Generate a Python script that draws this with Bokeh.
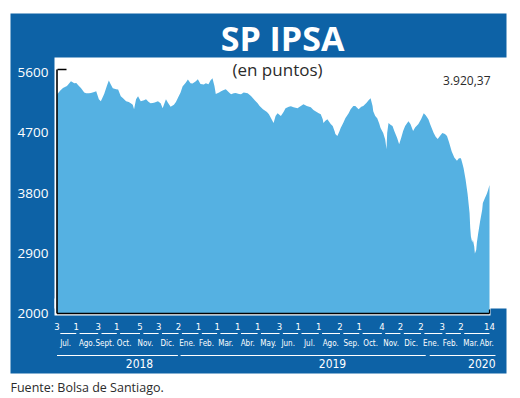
import pandas as pd
from bokeh.plotting import figure
from bokeh.models import Range1d
from bokeh.core.properties import value
from bokeh.embed import file_html
from bokeh.resources import INLINE

# ---------------- data ----------------
dates = [
    "2018-07-03", "2018-07-08", "2018-07-12", "2018-07-18", "2018-07-24", "2018-07-29",
    "2018-08-01", "2018-08-05", "2018-08-08", "2018-08-13", "2018-08-16", "2018-08-20",
    "2018-08-23", "2018-08-28", "2018-08-31", "2018-09-04", "2018-09-07", "2018-09-12",
    "2018-09-16", "2018-09-19", "2018-09-22", "2018-09-25", "2018-09-30", "2018-10-03",
    "2018-10-07", "2018-10-10", "2018-10-15", "2018-10-19", "2018-10-22", "2018-10-25",
    "2018-10-27", "2018-10-30", "2018-11-02", "2018-11-06", "2018-11-11", "2018-11-14",
    "2018-11-18", "2018-11-21", "2018-11-26", "2018-12-02", "2018-12-06", "2018-12-09",
    "2018-12-14", "2018-12-17", "2018-12-21", "2018-12-26", "2018-12-29", "2019-01-02",
    "2019-01-05", "2019-01-08", "2019-01-13", "2019-01-16", "2019-01-20", "2019-01-23",
    "2019-01-28", "2019-01-31", "2019-02-04", "2019-02-09", "2019-02-12", "2019-02-16",
    "2019-02-19", "2019-02-22", "2019-02-25", "2019-02-27", "2019-03-04", "2019-03-07",
    "2019-03-11", "2019-03-14", "2019-03-19", "2019-03-22", "2019-03-26", "2019-03-29",
    "2019-04-03", "2019-04-06", "2019-04-10", "2019-04-16", "2019-04-21", "2019-04-24",
    "2019-04-27", "2019-05-01", "2019-05-04", "2019-05-09", "2019-05-15", "2019-05-18",
    "2019-05-22", "2019-05-25", "2019-05-28", "2019-05-31", "2019-06-05", "2019-06-09",
    "2019-06-12", "2019-06-17", "2019-06-20", "2019-06-24", "2019-06-30", "2019-07-05",
    "2019-07-09", "2019-07-14", "2019-07-20", "2019-07-24", "2019-07-27", "2019-08-01",
    "2019-08-04", "2019-08-07", "2019-08-08", "2019-08-11", "2019-08-14", "2019-08-19",
    "2019-08-22", "2019-08-25", "2019-08-26", "2019-08-29", "2019-09-01", "2019-09-03",
    "2019-09-07", "2019-09-10", "2019-09-15", "2019-09-18", "2019-09-22", "2019-09-25",
    "2019-09-30", "2019-10-04", "2019-10-07", "2019-10-12", "2019-10-15", "2019-10-18",
    "2019-10-21", "2019-10-22", "2019-10-25", "2019-10-28", "2019-10-31", "2019-11-02",
    "2019-11-06", "2019-11-09", "2019-11-11", "2019-11-12", "2019-11-14", "2019-11-17",
    "2019-11-20", "2019-11-23", "2019-11-27", "2019-11-30", "2019-12-03", "2019-12-06",
    "2019-12-09", "2019-12-14", "2019-12-17", "2019-12-21", "2019-12-24", "2019-12-29",
    "2020-01-02", "2020-01-06", "2020-01-09", "2020-01-13", "2020-01-16", "2020-01-21",
    "2020-01-24", "2020-01-27", "2020-01-31", "2020-02-03", "2020-02-07", "2020-02-10",
    "2020-02-13", "2020-02-17", "2020-02-21", "2020-02-25", "2020-02-28", "2020-03-02",
    "2020-03-04", "2020-03-06", "2020-03-09", "2020-03-12", "2020-03-15", "2020-03-16",
    "2020-03-17", "2020-03-19", "2020-03-20", "2020-03-22", "2020-03-23", "2020-03-25",
    "2020-03-26", "2020-03-28", "2020-03-31", "2020-04-03", "2020-04-04", "2020-04-07",
    "2020-04-10", "2020-04-12", "2020-04-14",
]
ipsa = [
    5270, 5330, 5370, 5400, 5470, 5440,
    5445, 5400, 5370, 5300, 5290, 5290,
    5295, 5310, 5320, 5200, 5170, 5280,
    5400, 5480, 5420, 5365, 5350, 5345,
    5245, 5220, 5170, 5160, 5140, 5120,
    5050, 5200, 5245, 5170, 5185, 5200,
    5160, 5140, 5150, 5170, 5140, 5065,
    5200, 5150, 5090, 5120, 5160, 5240,
    5300, 5390, 5450, 5495, 5440, 5435,
    5470, 5500, 5430, 5420, 5440, 5425,
    5480, 5515, 5400, 5280, 5300, 5320,
    5340, 5350, 5300, 5275, 5290, 5295,
    5280, 5275, 5300, 5290, 5250, 5215,
    5180, 5140, 5100, 5050, 5010, 4975,
    4900, 4845, 4950, 4990, 4950, 5010,
    5065, 5090, 5095, 5080, 5065, 5100,
    5125, 5100, 5080, 5040, 5020, 4990,
    4975, 4900, 4845, 4880, 4900, 4830,
    4800, 4720, 4680, 4650, 4720, 4770,
    4850, 4915, 4990, 5050, 5100, 5100,
    5050, 5090, 5100, 5150, 5185, 5215,
    5100, 5020, 4950, 4915, 4840, 4770,
    4695, 4600, 4455, 4700, 4845, 4820,
    4800, 4720, 4620, 4530, 4620, 4725,
    4800, 4870, 4830, 4725, 4780, 4830,
    4900, 4990, 4960, 4900, 4820, 4695,
    4640, 4605, 4660, 4695, 4680, 4650,
    4560, 4425, 4330, 4280, 4320, 4320,
    4250, 4170, 4000, 3790, 3500, 3280,
    3150, 3060, 3100, 3000, 2895, 2950,
    3060, 3200, 3385, 3550, 3650, 3720,
    3790, 3850, 3920.37,
]
last_value_label = "3.920,37"

y_ticks = [2000, 2900, 3800, 4700, 5600]
y_tick_labels = ["2000", "2900", "3800", "4700", "5600"]

day_tick_dates = [
    "2018-07-03", "2018-08-01", "2018-09-03", "2018-10-01", "2018-11-05", "2018-12-03",
    "2019-01-02", "2019-02-01", "2019-03-01", "2019-04-01", "2019-05-01", "2019-06-03",
    "2019-07-01", "2019-08-01", "2019-09-02", "2019-10-01", "2019-11-04", "2019-12-02",
    "2020-01-02", "2020-02-03", "2020-03-02", "2020-04-14",
]
day_tick_labels = ["3", "1", "3", "1", "5", "3", "2", "1", "1", "1", "1", "3",
                   "1", "1", "2", "1", "4", "2", "2", "3", "2", "14"]

month_dates = [
    "2018-07-16", "2018-08-17", "2018-09-13", "2018-10-12", "2018-11-13", "2018-12-16",
    "2019-01-15", "2019-02-13", "2019-03-14", "2019-04-16", "2019-05-17", "2019-06-16",
    "2019-07-18", "2019-08-19", "2019-09-19", "2019-10-18", "2019-11-18", "2019-12-18",
    "2020-01-17", "2020-02-15", "2020-03-17", "2020-04-10",
]
month_labels = ["Jul.", "Ago.", "Sept.", "Oct.", "Nov.", "Dic.",
                "Ene.", "Feb.", "Mar.", "Abr.", "May.", "Jun.", "Jul.", "Ago.",
                "Sep.", "Oct.", "Nov.", "Dic.", "Ene.", "Feb.", "Mar.", "Abr."]

year_labels = ["2018", "2019", "2020"]
year_starts = ["2018-07-03", "2019-01-05", "2020-01-15"]
year_ends = ["2019-01-01", "2020-01-09", "2020-04-23"]

title = "SP IPSA"
subtitle = "(en puntos)"
source_note = "Fuente: Bolsa de Santiago."

# ---------------- layout ----------------
W, H = 512, 398
X0_PX, X1_PX = 56.5, 489.0      # canvas x of first / last date
Y_LO_PX, Y_HI_PX = 313.0, 72.0  # canvas y (from top) of 2000 / 5600

BLUE = "#0d62a6"
AREA = "#55b1e2"
DARK = "#2b2b2b"

d = pd.to_datetime(dates)
ms = lambda t: pd.Timestamp(t).value / 1e6
d0, d1 = ms(d[0]), ms(d[-1])
k = (d1 - d0) / (X1_PX - X0_PX)
x_range = Range1d(start=d0 - X0_PX * k, end=d0 + (W - X0_PX) * k)
vmin, vmax = y_ticks[0], y_ticks[-1]
kv = (vmax - vmin) / (Y_LO_PX - Y_HI_PX)
y_range = Range1d(start=vmin - (H - Y_LO_PX) * kv, end=vmax + Y_HI_PX * kv)

p = figure(width=W, height=H, output_backend="svg", toolbar_location=None,
           x_range=x_range, y_range=y_range, x_axis_type="datetime",
           x_axis_location=None, y_axis_location=None, min_border=0,
           background_fill_color="white", border_fill_color="white",
           outline_line_color=None)
p.grid.visible = False
p.extra_x_ranges = {"px": Range1d(0, W)}
p.extra_y_ranges = {"px": Range1d(H, 0)}
PX = dict(x_range_name="px", y_range_name="px")

# frame
p.quad(left=10, right=506, top=13, bottom=373, fill_color=BLUE, line_color=None, **PX)
p.quad(left=54, right=W, top=57, bottom=308, fill_color="white", line_color=None, **PX)
p.quad(left=54, right=490, top=298, bottom=315, fill_color="white", line_color=None, **PX)

# area
p.varea(x=d, y1=vmin, y2=ipsa, fill_color=AREA)

# axis lines
top_px = 69
p.segment(x0=[d[0]], y0=[vmin], x1=[d[0]], y1=[vmax + (Y_HI_PX - top_px) * kv],
          line_color="black", line_width=1.6)
p.segment(x0=[d[0]], y0=[vmin], x1=[d[-1]], y1=[vmin], line_color="black", line_width=1.6)
p.segment(x0=[57], y0=[top_px], x1=[66], y1=[top_px], line_color="black", line_width=1.6, **PX)
p.segment(x0=[d[-1]], y0=[vmin], x1=[d[-1]], y1=[vmin + 4 * kv], line_color="black", line_width=1.2)

# titles
p.text(x=[282], y=[37], text=[title], text_font=value("Open Sans"), text_font_size="34px",
       text_font_style="bold", text_color="white", text_align="center",
       text_baseline="middle", **PX)
p.text(x=[277], y=[69], text=[subtitle], text_font=value("Open Sans"), text_font_size="17px",
       text_color=DARK, text_align="center", text_baseline="middle", **PX)
p.text(x=[490], y=[80], text=[last_value_label], text_font=value("Open Sans"),
       text_font_size="12px", text_color=DARK, text_align="right", text_baseline="middle", **PX)

# y tick labels
p.text(x=[48] * len(y_ticks), y=y_ticks, text=y_tick_labels, x_range_name="px",
       text_font=value("Open Sans"), text_font_size="13.5px", text_color="white",
       text_align="right", text_baseline="middle")

# x day numbers, underlines, months, years
NARROW = value("DejaVu Sans Condensed")
td = pd.to_datetime(day_tick_dates)
p.text(x=td, y=[326] * len(td), text=day_tick_labels, y_range_name="px",
       text_font=NARROW, text_font_size="9.5px", text_color="white",
       text_align="center", text_baseline="middle")
gap = pd.Timedelta(days=5)
p.segment(x0=td[:-1] + gap, y0=[333] * (len(td) - 1), x1=td[1:], y1=[333] * (len(td) - 1),
          line_color="white", line_width=1, y_range_name="px")
md = pd.to_datetime(month_dates)
p.text(x=md, y=[343] * len(md), text=month_labels, y_range_name="px",
       text_font=NARROW, text_font_size="8px", text_color="white",
       text_align="center", text_baseline="middle")
p.segment(x0=pd.to_datetime(year_starts), y0=[355] * 3, x1=pd.to_datetime(year_ends),
          y1=[355] * 3, line_color="white", line_width=1, y_range_name="px")
p.text(x=[139, 332, 495], y=[363] * 3, text=year_labels, text_font=NARROW,
       text_font_size="12px", text_color="white", text_align=["center", "center", "right"],
       text_baseline="middle", **PX)

# source
p.text(x=[10], y=[387], text=[source_note], text_font=value("Open Sans"),
       text_font_size="12.5px", text_color=DARK, text_align="left",
       text_baseline="middle", **PX)

open("out.html", "w").write(file_html(p, INLINE))
